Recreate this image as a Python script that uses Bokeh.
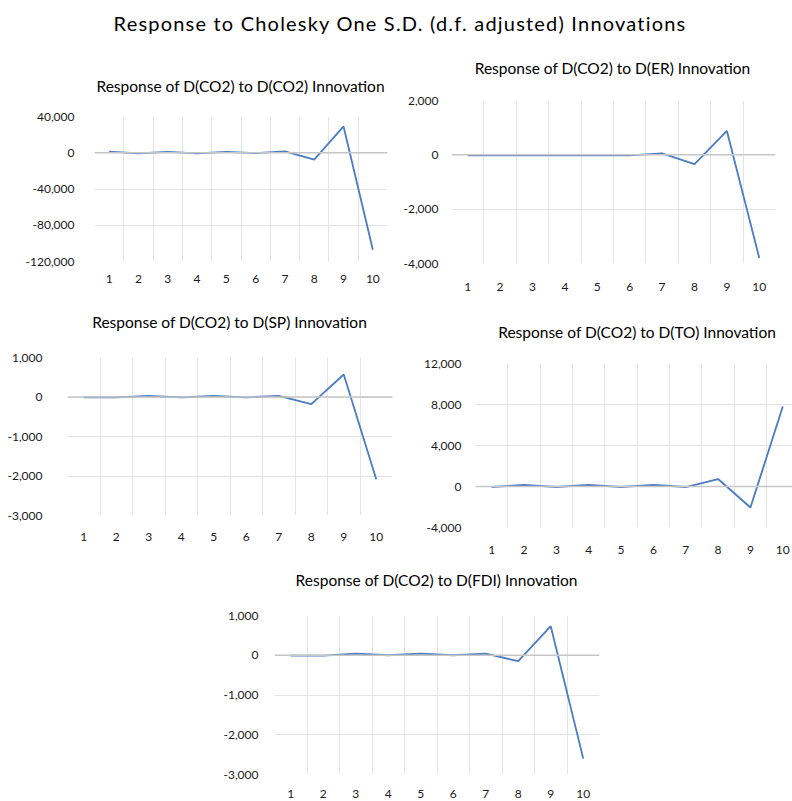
from bokeh.plotting import figure
from bokeh.layouts import column, row
from bokeh.models import Div, Range1d, FixedTicker, NumeralTickFormatter, Span
from bokeh.embed import file_html
from bokeh.resources import INLINE

periods = [1, 2, 3, 4, 5, 6, 7, 8, 9, 10]
period_labels = ["1", "2", "3", "4", "5", "6", "7", "8", "9", "10"]

main_title = "Response to Cholesky One S.D. (d.f. adjusted) Innovations"

title_co2 = "Response of D(CO2) to D(CO2) Innovation"
resp_co2 = [1200, -800, 1000, -600, 900, -500, 1500, -7500, 29000, -107000]
ticks_co2 = [40000, 0, -40000, -80000, -120000]

title_er = "Response of D(CO2) to D(ER) Innovation"
resp_er = [-20, -20, -20, -20, -20, -20, 50, -340, 880, -3800]
ticks_er = [2000, 0, -2000, -4000]

title_sp = "Response of D(CO2) to D(SP) Innovation"
resp_sp = [-10, -10, 30, -10, 30, -10, 30, -180, 570, -2080]
ticks_sp = [1000, 0, -1000, -2000, -3000]

title_to = "Response of D(CO2) to D(TO) Innovation"
resp_to = [-50, 150, -50, 150, -50, 150, -50, 730, -2050, 7800]
ticks_to = [12000, 8000, 4000, 0, -4000]

title_fdi = "Response of D(CO2) to D(FDI) Innovation"
resp_fdi = [-10, -10, 40, 0, 40, 0, 40, -150, 730, -2600]
ticks_fdi = [1000, 0, -1000, -2000, -3000]

FONT = "Lato"
LINE_COLOR = "#4a7cc4"
TITLE_LINE = 20


def panel(title, values, yticks, box_x, box_w, frame_x, frame_w, row_top, row_bottom,
          title_y, frame_top, frame_h, xlabel_standoff, ylabel_standoff,
          x_end=10.5, title_pad_extra=0):
    # panel title as an HTML block centred over the plotting frame
    pad_top = title_y - TITLE_LINE // 2 - row_top
    div_h = pad_top + TITLE_LINE
    left = frame_x - box_x
    right = box_w - left - frame_w
    div = Div(text=title, width=box_w, height=div_h, margin=(0, 0, 0, 0),
              styles={"font-family": FONT, "font-size": "15.5px", "color": "#000",
                      "line-height": "%dpx" % TITLE_LINE, "text-align": "center",
                      "white-space": "nowrap",
                      "width": "%dpx" % box_w, "box-sizing": "border-box",
                      "padding-top": "%dpx" % pad_top,
                      "padding-left": "%dpx" % (left + title_pad_extra),
                      "padding-right": "%dpx" % max(right - title_pad_extra, 0)})
    top = frame_top - (row_top + div_h)
    bottom = row_bottom - (frame_top + frame_h)
    p = figure(width=box_w, height=top + frame_h + bottom,
               output_backend="svg", toolbar_location=None,
               x_range=Range1d(0.5, x_end),
               y_range=Range1d(min(yticks), max(yticks)),
               min_border_left=left, min_border_right=right,
               min_border_top=top, min_border_bottom=bottom,
               margin=(0, 0, 0, 0))
    p.outline_line_color = None

    p.xaxis.ticker = FixedTicker(ticks=periods)
    p.xaxis.major_label_overrides = {k: v for k, v in zip(periods, period_labels)}
    p.yaxis.ticker = FixedTicker(ticks=yticks)
    p.yaxis.formatter = NumeralTickFormatter(format="0,0")
    for ax in (p.xaxis[0], p.yaxis[0]):
        ax.axis_line_color = None
        ax.major_tick_line_color = None
        ax.minor_tick_line_color = None
        ax.major_label_text_font = FONT
        ax.major_label_text_font_size = "12px"
        ax.major_label_text_color = "#1a1a1a"
    p.xaxis.major_label_standoff = xlabel_standoff
    p.yaxis.major_label_standoff = ylabel_standoff

    p.xgrid.ticker = FixedTicker(ticks=[x + 0.5 for x in periods[:-1]])
    p.xgrid.grid_line_color = "#e4e4e4"
    p.ygrid.ticker = FixedTicker(ticks=yticks)
    p.ygrid.grid_line_color = "#e4e4e4"

    p.add_layout(Span(location=0, dimension="width", line_color="#c6c6c6", line_width=1.5))
    p.line(periods, values, line_color=LINE_COLOR, line_width=1.8)
    return column(div, p, spacing=0)


title_div = Div(text=main_title, width=792, height=45, margin=(0, 0, 0, 0),
                styles={"font-family": FONT, "font-size": "20px", "color": "#000",
                        "text-align": "center", "width": "792px",
                        "letter-spacing": "1.2px", "padding-top": "9px",
                        "padding-left": "8px", "box-sizing": "border-box"})

# row 1: y 45 .. 300
c1 = panel(title_co2, resp_co2, ticks_co2, 0, 400, 94, 293, 45, 300, 86, 116, 145, 7, 14)
c2 = panel(title_er, resp_er, ticks_er, 400, 392, 450, 325, 45, 300, 68, 100, 163, 13, 7)
# row 2: y 300 .. 560
c3 = panel(title_sp, resp_sp, ticks_sp, 0, 420, 67, 325, 300, 560, 322, 357, 158, 11, 19)
c4 = panel(title_to, resp_to, ticks_to, 420, 372, 474, 318, 300, 560, 332, 363, 164, 12, 8,
           x_end=10.3, title_pad_extra=8)
# row 3: y 560 .. 800
c5 = panel(title_fdi, resp_fdi, ticks_fdi, 0, 792, 274, 325, 560, 800, 580, 615, 160, 9, 10)

layout = column(title_div, row(c1, c2), row(c3, c4), c5)

open("out.html", "w").write(file_html(layout, INLINE))
